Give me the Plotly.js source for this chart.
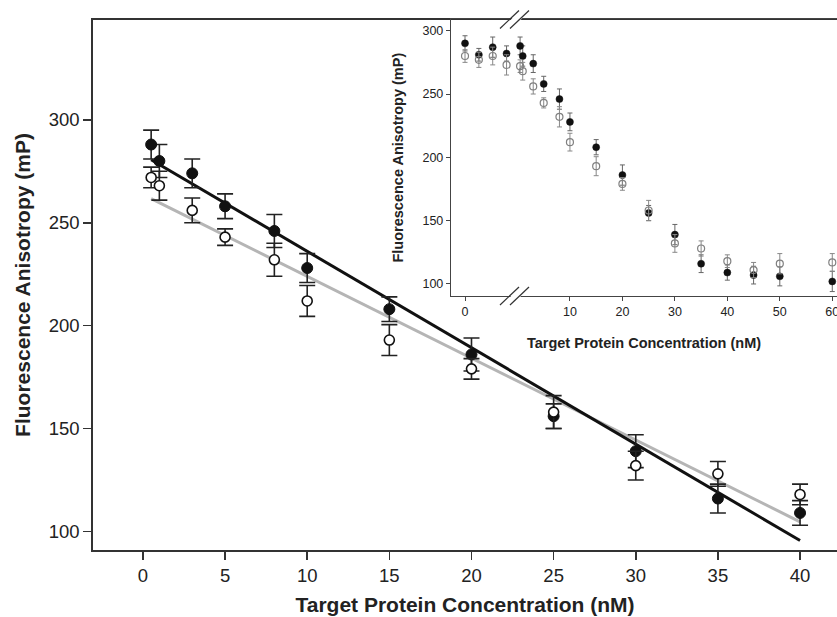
<!DOCTYPE html>
<html>
<head>
<meta charset="utf-8">
<script src="https://cdn.plot.ly/plotly-3.0.1.min.js"></script>
<style>html,body{margin:0;padding:0;background:#fff;}#chart{width:837px;height:617px;}</style>
</head>
<body>
<div id="chart"></div>
<script>
// ---------- Main panel data ----------
const mainConc = [0.5, 1, 3, 5, 8, 10, 15, 20, 25, 30, 35, 40];
const mainFilled = [288, 280, 274, 258, 246, 228, 208, 186, 156, 139, 116, 109];
const mainFilledErr = [7, 8, 7, 6, 8, 7, 6, 8, 6, 8, 7, 6];
const mainOpen = [272, 268, 256, 243, 232, 212, 193, 179, 158, 132, 128, 118];
const mainOpenErr = [5, 7, 6, 4, 8, 7.5, 7.5, 5, 8, 7, 6, 5];
// linear fit lines
const fitConc = [0.5, 40];
const fitFilled = [280.6, 95.6];
const fitOpen = [261.7, 104.7];
const mainXTicks = [0, 5, 10, 15, 20, 25, 30, 35, 40];
const mainYTicks = [100, 150, 200, 250, 300];

// ---------- Inset data ----------
const insetConc = [0, 0.1, 0.2, 0.3, 0.5, 1, 3, 5, 8, 10, 15, 20, 25, 30, 35, 40, 45, 50, 60];
const insetFilled = [290, 281, 287, 282, 288, 280, 274, 258, 246, 228, 208, 186, 156, 139, 116, 109, 107, 106, 102];
const insetFilledErr = [6, 5, 8, 6, 7, 8, 7, 6, 8, 7, 6, 8, 6, 8, 7, 6, 7, 7.5, 8];
const insetOpen = [280, 277, 280, 273, 272, 268, 256, 243, 232, 212, 193, 179, 158, 132, 128, 118, 111, 116, 117];
const insetOpenErr = [5, 6, 7, 8, 5, 7, 6, 4, 8, 7, 7.5, 5, 8, 7, 6, 5, 6, 8, 7];
const insetXTicks = [0, 10, 20, 30, 40, 50, 60];
const insetYTicks = [100, 150, 200, 250, 300];

// broken inset axis: low concentrations sit in a compressed segment before the break
function insetPos(c) { return c < 0.4 ? -10 + c * 26.4 : c; }
const insetX = insetConc.map(insetPos);
const insetTickPos = insetXTicks.map(insetPos);

const W = 837, H = 617;
const px = v => v / W;
const py = v => 1 - v / H;

const FONT = 'Liberation Sans, Arial, sans-serif';

const traces = [
  {x: fitConc, y: fitOpen, mode: 'lines', line: {color: '#b5b5b5', width: 3}, xaxis: 'x', yaxis: 'y', hoverinfo: 'skip'},
  {x: fitConc, y: fitFilled, mode: 'lines', line: {color: '#111', width: 3}, xaxis: 'x', yaxis: 'y', hoverinfo: 'skip'},
  {x: mainConc, y: mainFilled, mode: 'markers', xaxis: 'x', yaxis: 'y',
   marker: {color: '#111', size: 11, line: {color: '#111', width: 1}},
   error_y: {type: 'data', array: mainFilledErr, color: '#222', thickness: 1.6, width: 8}},
  {x: mainConc, y: mainOpen, mode: 'markers', xaxis: 'x', yaxis: 'y',
   marker: {color: '#fff', size: 10, line: {color: '#111', width: 1.6}},
   error_y: {type: 'data', array: mainOpenErr, color: '#222', thickness: 1.6, width: 8}},
  {x: insetX, y: insetFilled, mode: 'markers', xaxis: 'x2', yaxis: 'y2', cliponaxis: false,
   marker: {color: '#111', size: 7, line: {color: '#111', width: 0.5}},
   error_y: {type: 'data', array: insetFilledErr, color: '#666', thickness: 1, width: 2.5}},
  {x: insetX, y: insetOpen, mode: 'markers', xaxis: 'x2', yaxis: 'y2', cliponaxis: false,
   marker: {color: 'rgba(255,255,255,0)', size: 7, line: {color: '#808080', width: 1.2}},
   error_y: {type: 'data', array: insetOpenErr, color: '#888', thickness: 1, width: 2.5}}
];

// break marks ("//") on inset axes
function slashes(yc) {
  const out = [];
  out.push({type: 'path', xref: 'paper', yref: 'paper',
    path: `M ${px(503)} ${py(yc + 9)} L ${px(519)} ${py(yc - 9)} L ${px(529)} ${py(yc - 9)} L ${px(513)} ${py(yc + 9)} Z`,
    fillcolor: '#fff', line: {width: 0}});
  [[500, 516], [510, 526]].forEach(([a, b]) => {
    out.push({type: 'line', xref: 'paper', yref: 'paper',
      x0: px(a), y0: py(yc + 9), x1: px(b + 3), y1: py(yc - 9), line: {color: '#333', width: 1.2}});
  });
  return out;
}

const layout = {
  width: W, height: H,
  margin: {l: 0, r: 0, t: 0, b: 0},
  paper_bgcolor: '#fff', plot_bgcolor: 'rgba(0,0,0,0)',
  showlegend: false,
  font: {family: FONT, color: '#222'},
  xaxis: {
    domain: [px(93), 1], range: [-3.04, 42.25],
    tickvals: mainXTicks, ticks: 'outside', ticklen: 8, tickwidth: 1.6, tickcolor: '#333',
    showline: true, linecolor: '#333', linewidth: 1.8, mirror: true,
    showgrid: false, zeroline: false,
    tickfont: {size: 18.5, family: FONT, color: '#222'},
    title: {text: '<b>Target Protein Concentration (nM)</b>', font: {size: 21, family: FONT, color: '#222'}, standoff: 12}
  },
  yaxis: {
    domain: [py(550), py(20)], range: [91, 348.5],
    tickvals: mainYTicks, ticks: 'outside', ticklen: 8, tickwidth: 1.6, tickcolor: '#333',
    showline: true, linecolor: '#333', linewidth: 1.8,
    showgrid: false, zeroline: false,
    tickfont: {size: 18.5, family: FONT, color: '#222'},
    title: {text: '<b>Fluorescence Anisotropy (mP)</b>', font: {size: 21, family: FONT, color: '#222'}, standoff: 12}
  },
  xaxis2: {
    anchor: 'y2', domain: [px(451), 1], range: [-12.67, 60.9],
    tickvals: insetTickPos, ticktext: insetXTicks.map(String),
    ticks: 'outside', ticklen: 4, tickwidth: 1, tickcolor: '#444',
    ticklabeloverflow: 'allow',
    showline: true, linecolor: '#444', linewidth: 1.2, mirror: true,
    showgrid: false, zeroline: false,
    tickfont: {size: 12.5, family: FONT, color: '#222'},
    title: {text: '<b>Target Protein Concentration (nM)</b>', font: {size: 14.5, family: FONT, color: '#222'}, standoff: 19}
  },
  yaxis2: {
    anchor: 'x2', domain: [py(296), py(19.3)], range: [90.5, 309],
    tickvals: insetYTicks, ticks: 'outside', ticklen: 4, tickwidth: 1, tickcolor: '#444',
    showline: true, linecolor: '#444', linewidth: 1.2,
    showgrid: false, zeroline: false,
    tickfont: {size: 12.5, family: FONT, color: '#222'},
    title: {text: '<b>Fluorescence Anisotropy (mP)</b>', font: {size: 14.5, family: FONT, color: '#222'}, standoff: 15}
  },
  shapes: [
    {type: 'rect', xref: 'paper', yref: 'paper', x0: px(452), x1: 1, y0: py(295), y1: py(21), fillcolor: '#fff', line: {width: 0}, layer: 'below'}
  ].concat(slashes(19.5)).concat(slashes(296))
};

Plotly.newPlot('chart', traces, layout, {staticPlot: true, displayModeBar: false});
</script>
</body>
</html>
